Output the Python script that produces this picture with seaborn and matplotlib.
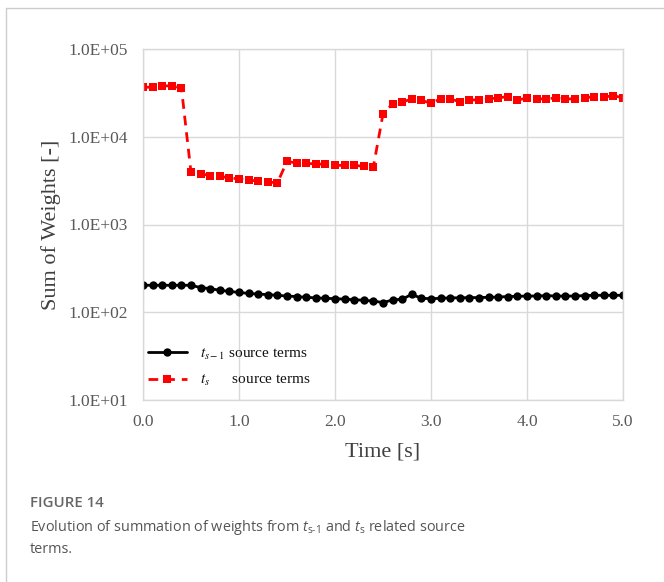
import numpy as np
import pandas as pd
import matplotlib
matplotlib.use("Agg")
import matplotlib.pyplot as plt
from matplotlib.lines import Line2D
from matplotlib.ticker import FixedLocator, FuncFormatter, NullLocator
import seaborn as sns

# Sampling instants [s]
time_s = [0.0, 0.1, 0.2, 0.3, 0.4, 0.5, 0.6, 0.7, 0.8, 0.9,
          1.0, 1.1, 1.2, 1.3, 1.4, 1.5, 1.6, 1.7, 1.8, 1.9,
          2.0, 2.1, 2.2, 2.3, 2.4, 2.5, 2.6, 2.7, 2.8, 2.9,
          3.0, 3.1, 3.2, 3.3, 3.4, 3.5, 3.6, 3.7, 3.8, 3.9,
          4.0, 4.1, 4.2, 4.3, 4.4, 4.5, 4.6, 4.7, 4.8, 4.9, 5.0]

# Sum of weights of the t_{s-1} source terms
weights_prev = [203, 203, 203, 203, 203, 203, 191, 186, 178, 173,
                168, 164, 161, 159, 156, 153, 151, 148, 146, 144,
                143, 141, 139, 137, 134, 129, 138, 141, 160, 144,
                143, 144, 146, 146, 147, 147, 148, 149, 151, 152,
                153, 153, 155, 153, 153, 153, 155, 156, 156, 156, 156]

# Sum of weights of the t_s source terms
weights_curr = [36700, 36700, 38000, 38000, 36000, 3930, 3800, 3610, 3540, 3400,
                3310, 3240, 3100, 3060, 2980, 5240, 5020, 4980, 4900, 4850,
                4720, 4720, 4720, 4600, 4560, 18200, 23700, 24800, 27000, 25900,
                24200, 27000, 26800, 25200, 26300, 26300, 27000, 27700, 28700, 26300,
                27500, 27000, 27000, 27700, 27000, 27000, 27700, 28700, 28200, 29500, 27700]

y_ticks = [1e1, 1e2, 1e3, 1e4, 1e5]
x_ticks = [0.0, 1.0, 2.0, 3.0, 4.0, 5.0]

label_prev = r"$t_{s-1}$ source terms"
label_curr = r"$t_s$" + "      source terms"

df = pd.DataFrame({"Time": time_s, "prev": weights_prev, "curr": weights_curr})

sns.set_style("white")
plt.rcParams["font.family"] = ["Liberation Serif", "DejaVu Serif"]
plt.rcParams["mathtext.fontset"] = "custom"
plt.rcParams["mathtext.rm"] = "Open Sans"
plt.rcParams["mathtext.it"] = "Open Sans:italic"

W, H = 664, 582
fig = plt.figure(figsize=(W / 100, H / 100), dpi=100)
fig.patch.set_facecolor("white")
ax = fig.add_axes([143 / W, 1 - 400 / H, 480 / W, 351 / H])

sns.lineplot(data=df, x="Time", y="prev", ax=ax, color="black", lw=2.0,
             marker="o", markersize=6, markeredgewidth=0, label=label_prev)
sns.lineplot(data=df, x="Time", y="curr", ax=ax, color="#ff0000", lw=2.0,
             linestyle=(0, (3.5, 2.5)), marker="s", markersize=6.1,
             markeredgewidth=0, label=label_curr)

ax.set_yscale("log")
ax.set_ylim(1e1, 1e5)
ax.set_xlim(0, 5)
ax.yaxis.set_major_locator(FixedLocator(y_ticks))
ax.yaxis.set_minor_locator(NullLocator())
ax.yaxis.set_major_formatter(FuncFormatter(lambda v, _: f"{v:.1E}"))
ax.xaxis.set_major_locator(FixedLocator(x_ticks))
ax.xaxis.set_major_formatter(FuncFormatter(lambda v, _: f"{v:.1f}"))

grid_c = "#d9d9d9"
ax.grid(True, color=grid_c, lw=1.0)
for sp in ax.spines.values():
    sp.set_color(grid_c)
    sp.set_linewidth(1.0)
ax.tick_params(axis="both", length=0, labelsize=12.5, labelcolor="#595959")
ax.tick_params(axis="y", pad=11)
ax.tick_params(axis="x", pad=10)

ax.set_xlabel("Time [s]", fontsize=16, color="#404040", labelpad=9)
ax.set_ylabel("Sum of Weights [-]", fontsize=16, color="#404040", labelpad=5)

leg = ax.legend(loc="upper left", bbox_to_anchor=(0.0, 0.165), frameon=False,
                fontsize=11, handlelength=2.6, handletextpad=0.8,
                labelspacing=0.75, borderpad=0.3, borderaxespad=0.0)
for t in leg.get_texts():
    t.set_math_fontfamily("stix")
    t.set_color("#111111")

# Card frame
fig.add_artist(Line2D([6 / W, 1], [1 - 8 / H, 1 - 8 / H], transform=fig.transFigure,
                      color="#cccccc", lw=1.0))
fig.add_artist(Line2D([6 / W, 6 / W], [0, 1 - 8 / H], transform=fig.transFigure,
                      color="#cccccc", lw=1.0))

# Caption
fig.text(30 / W, 1 - 507 / H, "FIGURE 14", family="Open Sans", weight="semibold",
         fontsize=10.8, color="#666666", va="baseline")
fig.text(30 / W, 1 - 531 / H,
         r"Evolution of summation of weights from $t_{\text{s-1}}$ and $t_{\text{s}}$ related source",
         family="Open Sans", fontsize=10.4, color="#555555", va="baseline",
         math_fontfamily="custom")
fig.text(30 / W, 1 - 553 / H, "terms.", family="Open Sans", fontsize=10.4,
         color="#555555", va="baseline")

fig.savefig("out.png", dpi=100)
